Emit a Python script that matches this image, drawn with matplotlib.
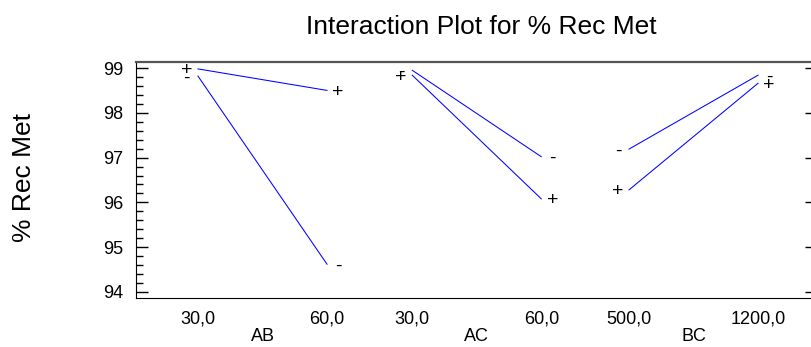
import numpy as np
import matplotlib
matplotlib.use("Agg")
import matplotlib.pyplot as plt
from matplotlib.ticker import MultipleLocator

plt.rcParams['font.family'] = ['Liberation Sans', 'DejaVu Sans']

# interaction data: mean % Rec Met at low / high level of first factor,
# one line per level of the second factor
factors = ['AB', 'AC', 'BC']
level_labels = [['30,0', '60,0'], ['30,0', '60,0'], ['500,0', '1200,0']]
minus_means = [[98.82, 94.62], [98.95, 97.02], [97.19, 98.84]]
plus_means = [[98.98, 98.50], [98.84, 96.08], [96.28, 98.66]]

# horizontal placement of each panel (in axis units)
panel_start = [0.0, 1.66, 3.34]

fig = plt.figure(figsize=(8.11, 3.47), dpi=100)
ax = fig.add_axes([136/811, 1-298/347, 675/811, 236/347])

tick_pos = []
tick_txt = []
for i, f in enumerate(factors):
    x = np.array([panel_start[i], panel_start[i] + 1])
    for vals, sign in ((minus_means[i], '-'), (plus_means[i], '+')):
        ax.plot(x, vals, color='blue', lw=0.75)
        ax.annotate(sign, (x[0], vals[0]), xytext=(-8, -1.5),
                    textcoords='offset points', ha='center', va='center',
                    fontsize=14)
        ax.annotate(sign, (x[1], vals[1]), xytext=(8, -1.5),
                    textcoords='offset points', ha='center', va='center',
                    fontsize=14)
    tick_pos += list(x)
    tick_txt += level_labels[i]
    ax.text(x.mean(), -0.165, f, transform=ax.get_xaxis_transform(),
            ha='center', va='center', fontsize=13)

ax.set_xlim(-0.48, 4.75)
ax.set_ylim(93.866, 99.134)
ax.set_xticks(tick_pos)
ax.set_xticklabels(tick_txt, fontsize=13)
ax.tick_params(axis='x', length=0, pad=9)

ax.yaxis.set_major_locator(MultipleLocator(1))
ax.yaxis.set_minor_locator(MultipleLocator(0.2))
ax.tick_params(axis='y', which='major', direction='in', length=8.6,
               width=1, labelsize=13, pad=9)
ax.tick_params(axis='y', which='minor', direction='in', length=5, width=1)

ax.spines['right'].set_visible(False)
ax.spines['top'].set_color('#555555')
ax.spines['top'].set_linewidth(1.6)

ax2 = ax.twinx()
ax2.set_ylim(ax.get_ylim())
ax2.yaxis.set_major_locator(MultipleLocator(1))
ax2.tick_params(axis='y', direction='in', length=4.3, width=1,
                labelright=False)
for s in ax2.spines.values():
    s.set_visible(False)

fig.text(481/811, 1-27/347, 'Interaction Plot for % Rec Met',
         ha='center', va='center', fontsize=19)
fig.text(24/811, 1-178/347, '% Rec Met', rotation=90,
         ha='center', va='center', fontsize=19)

fig.savefig('out.png', dpi=100)
